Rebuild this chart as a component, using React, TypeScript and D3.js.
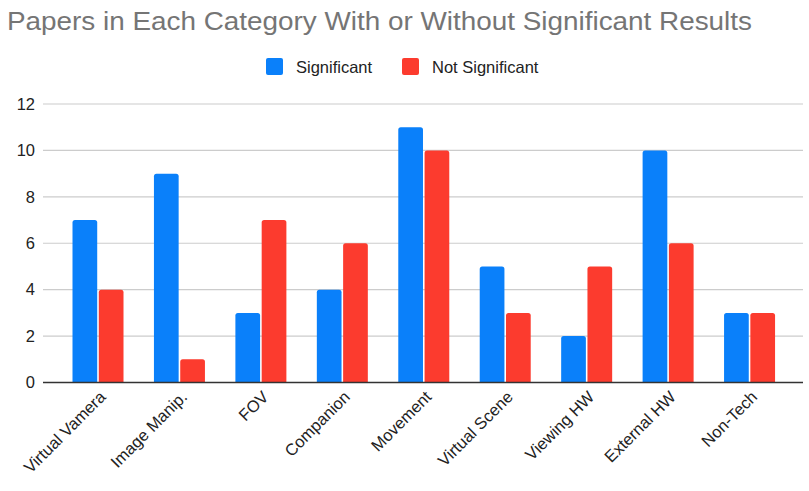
import * as d3 from 'd3'
import * as React from 'react'

const categories = ['Virtual Vamera', 'Image Manip.', 'FOV', 'Companion', 'Movement', 'Virtual Scene', 'Viewing HW', 'External HW', 'Non-Tech']
const significant = [7, 9, 3, 4, 11, 5, 2, 10, 3]
const notSignificant = [4, 1, 7, 6, 10, 3, 5, 6, 3]
const seriesNames = ['Significant', 'Not Significant']
const yTicks = [0, 2, 4, 6, 8, 10, 12]

const W = 809
const H = 491
const colors = ['#0a80fa', '#fc3b2e']
const font = 'Arial, "Liberation Sans", sans-serif'

// top-rounded bar path
const barPath = (x: number, y: number, w: number, h: number, r: number) =>
  `M${x},${y + h}V${y + r}Q${x},${y} ${x + r},${y}H${x + w - r}Q${x + w},${y} ${x + w},${y + r}V${y + h}Z`

export default function App() {
  const x = d3.scaleBand<string>().domain(categories).range([57, 790])
  const y = d3.scaleLinear().domain([0, 12]).range([382.5, 104])
  const inner = d3.scaleBand<number>().domain([0, 1]).range([15.5, 66.5]).paddingInner(0.06)
  const series = [significant, notSignificant]

  return (
    <div style={{ position: 'absolute', left: 0, top: 0 }}>
      <svg width={W} height={H} style={{ display: 'block', background: '#fff' }}>
        <text x={7} y={30} fontFamily={font} fontSize={26} textLength={745} lengthAdjust="spacingAndGlyphs" fill="#757575">
          Papers in Each Category With or Without Significant Results
        </text>

        {/* legend */}
        <g fontFamily={font} fontSize={16.5} fill="#222">
          <rect x={266} y={58} width={17} height={17} rx={2} fill={colors[0]} />
          <text x={296} y={72.5}>{seriesNames[0]}</text>
          <rect x={402} y={58} width={17} height={17} rx={2} fill={colors[1]} />
          <text x={432} y={72.5}>{seriesNames[1]}</text>
        </g>

        {/* grid + y labels */}
        {yTicks.map(t => (
          <g key={t}>
            {t !== 0 && <line x1={43} x2={803} y1={y(t)} y2={y(t)} stroke="#cccccc" strokeWidth={1.2} />}
            <text x={35} y={y(t)} dy="0.35em" textAnchor="end" fontFamily={font} fontSize={16.5} fill="#222">{t}</text>
          </g>
        ))}

        {/* bars */}
        {categories.map((c, i) => (
          <g key={c} transform={`translate(${x(c)},0)`}>
            {series.map((s, j) => (
              <path key={j} d={barPath(inner(j)!, y(s[i]), inner.bandwidth(), y(0) - y(s[i]), 2.5)} fill={colors[j]} />
            ))}
          </g>
        ))}

        <line x1={43} x2={803} y1={y(0)} y2={y(0)} stroke="#333" strokeWidth={1.3} />

        {/* x labels */}
        {categories.map(c => (
          <text key={c} transform={`translate(${x(c)! + x.bandwidth() / 2 + 9},${398}) rotate(-45)`}
            textAnchor="end" fontFamily={font} fontSize={16.5} fill="#222">{c}</text>
        ))}
      </svg>
    </div>
  )
}
